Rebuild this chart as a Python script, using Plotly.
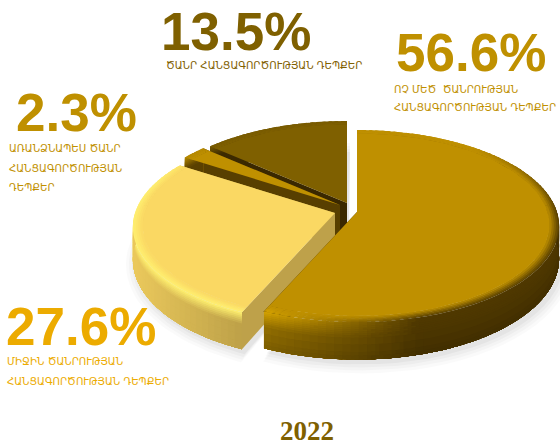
import math
import plotly.graph_objects as go

# data
categories = ["ՈՉ ՄԵԾ ԾԱՆՐՈՒԹՅԱՆ ՀԱՆՑԱԳՈՐԾՈՒԹՅԱՆ ԴԵՊՔԵՐ",
              "ՄԻՋԻՆ ԾԱՆՐՈՒԹՅԱՆ ՀԱՆՑԱԳՈՐԾՈՒԹՅԱՆ ԴԵՊՔԵՐ",
              "ԱՌԱՆՁՆԱՊԵՍ ԾԱՆՐ ՀԱՆՑԱԳՈՐԾՈՒԹՅԱՆ ԴԵՊՔԵՐ",
              "ԾԱՆՐ ՀԱՆՑԱԳՈՐԾՈՒԹՅԱՆ ԴԵՊՔԵՐ"]
values = [56.6, 27.6, 2.3, 13.5]
value_labels = ["56.6%", "27.6%", "2.3%", "13.5%"]
year = "2022"

label_lines = [["ՈՉ ՄԵԾ  ԾԱՆՐՈՒԹՅԱՆ", "ՀԱՆՑԱԳՈՐԾՈՒԹՅԱՆ ԴԵՊՔԵՐ"],
               ["ՄԻՋԻՆ ԾԱՆՐՈՒԹՅԱՆ", "ՀԱՆՑԱԳՈՐԾՈՒԹՅԱՆ ԴԵՊՔԵՐ"],
               ["ԱՌԱՆՁՆԱՊԵՍ ԾԱՆՐ", "ՀԱՆՑԱԳՈՐԾՈՒԹՅԱՆ", "ԴԵՊՔԵՐ"],
               ["ԾԱՆՐ ՀԱՆՑԱԳՈՐԾՈՒԹՅԱՆ ԴԵՊՔԵՐ"]]

# styles and layout
text_colors = ["#bf9000", "#ecab00", "#bf9000", "#7f6000"]
big_pos = [(395, 52), (5, 326), (15, 112), (160, 31)]
small_pos = [(393, [89, 107]), (6, [361, 381]), (8, [148, 168, 187]), (165, [65])]
apex = [(357, 212), (335, 213), (340, 205), (347, 203)]
R, RT, K, H = 200, 94, 0.146, 32
shades = [
    dict(top=(191, 144, 0), rim_l=(214, 164, 0), rim_r=(80, 57, 0), wall_l=(146, 110, 0), wall_r=(76, 54, 0),
         cut=(70, 50, 0), x0=265, x1=420, fade=(40, 90), reach=0.42, low=0.86),
    dict(top=(250, 216, 99), rim_l=(255, 240, 112), rim_r=(255, 240, 112), wall_l=(234, 200, 92), wall_r=(188, 160, 72),
         cut=(190, 161, 74), x0=135, x1=245, fade=(320, 290), reach=0.32, low=1.0),
    dict(top=(191, 144, 0), rim_l=(180, 136, 0), rim_r=(180, 136, 0), wall_l=(90, 64, 0), wall_r=(90, 64, 0),
         cut=(88, 63, 0), x0=180, x1=340, fade=None, reach=0.42, low=1.0),
    dict(top=(127, 96, 0), rim_l=(120, 90, 0), rim_r=(120, 90, 0), wall_l=(60, 42, 0), wall_r=(60, 42, 0),
         cut=(58, 40, 0), x0=200, x1=340, fade=None, reach=0.42, low=1.0),
]


def pt(theta, r, z, a):
    u, v = r * math.sin(theta), -r * math.cos(theta)
    s = 1 / (1 - K * v)
    return a[0] + R * u * s, a[1] + RT * v * s + z * H * s


def lerp(c1, c2, t):
    t = max(0.0, min(1.0, t))
    return tuple(c1[i] + (c2[i] - c1[i]) * t for i in range(3))


def hexc(c):
    return "#%02x%02x%02x" % tuple(int(round(x)) for x in c)


fig = go.Figure()


def add_poly(xs, ys, color, width=0.0):
    fig.add_trace(go.Scatter(x=xs, y=ys, mode="lines", fill="toself", fillcolor=color,
                             line=dict(color=color, width=width), hoverinfo="skip", showlegend=False))


def add_group(groups):
    for color, polys in groups.items():
        xs, ys = [], []
        for p in polys:
            xs += [q[0] for q in p] + [p[0][0], None]
            ys += [q[1] for q in p] + [p[0][1], None]
        add_poly(xs, ys, color)


total = sum(values)
spans, cum = [], 0.0
for val in values:
    spans.append((cum / total * 2 * math.pi, (cum + val) / total * 2 * math.pi))
    cum += val

# soft shadow beneath each slice
for (t0, t1), a in zip(spans, apex):
    n = 50
    th = [t0 + (t1 - t0) * i / n for i in range(n + 1)]
    for grow, alpha in [(10, 0.018), (7, 0.022), (4, 0.028), (1, 0.035)]:
        xs = [a[0] + 2] + [pt(t, 1, 1, a)[0] + 3 + grow * math.sin(t) for t in th] + [a[0] + 2]
        ys = [a[1] + H + 4] + [pt(t, 1, 1, a)[1] + 4 + grow * (-math.cos(t)) for t in th] + [a[1] + H + 4]
        fig.add_trace(go.Scatter(x=xs, y=ys, mode="lines", fill="toself", fillcolor=f"rgba(0,0,0,{alpha})",
                                 line=dict(width=0), hoverinfo="skip", showlegend=False))

bands_z = [0, 0.05, 0.1, 0.15, 0.2, 0.25, 0.3, 0.35, 0.42, 0.6, 0.8, 0.9]
bands_r = [0.99, 0.98, 0.97, 0.96, 0.95]


def rim_color(sh, tm, xm):
    h = (xm - sh["x0"]) / (sh["x1"] - sh["x0"])
    rim = lerp(sh["rim_l"], sh["rim_r"], h)
    if sh["fade"]:
        d0, d1 = sh["fade"]
        f = (math.degrees(tm) - d0) / (d1 - d0)
        rim = lerp(sh["top"], rim, f)
    return rim, h


for idx in [3, 2, 1, 0]:
    t0, t1 = spans[idx]
    a, sh = apex[idx], shades[idx]
    n = max(8, int((t1 - t0) / math.radians(2.0)))
    ths = [t0 + (t1 - t0) * i / n for i in range(n + 1)]

    for t_end in (t0, t1):
        p = [pt(t_end, 0, 0, a), pt(t_end, 1, 0, a), pt(t_end, 1, 1, a), pt(t_end, 0, 1, a)]
        add_poly([q[0] for q in p] + [p[0][0]], [q[1] for q in p] + [p[0][1]], hexc(sh["cut"]))

    # wall: each band is painted over the one before it, from top to bottom
    for j, z0 in enumerate(bands_z):
        z1 = bands_z[j + 1] if j + 1 < len(bands_z) else 1.0
        zm = (z0 + z1) / 2
        groups = {}
        for i in range(n):
            tm = (ths[i] + ths[i + 1]) / 2
            xm = pt(tm, 1, 0, a)[0]
            rim, h = rim_color(sh, tm, xm)
            wall = lerp(sh["wall_l"], sh["wall_r"], h)
            reach = sh["reach"]
            if zm < reach:
                col = lerp(rim, wall, zm / reach)
            else:
                col = lerp(wall, tuple(x * sh["low"] for x in wall), (zm - reach) / (1 - reach))
            t2 = min(t1, ths[i + 1] + (ths[1] - ths[0]) * 0.5)
            quad = [pt(ths[i], 1, z0, a), pt(t2, 1, z0, a), pt(t2, 1, 1, a), pt(ths[i], 1, 1, a)]
            groups.setdefault(hexc(col), []).append(quad)
        add_group(groups)

    # bevel: full sector painted from the rim inwards, then the flat top
    prev = 1.0
    for rb in bands_r:
        groups = {}
        for i in range(n):
            tm = (ths[i] + ths[i + 1]) / 2
            xm = pt(tm, 1, 0, a)[0]
            rim, _ = rim_color(sh, tm, xm)
            col = lerp(sh["top"], rim, ((rb + prev) / 2 - 0.95) / 0.05)
            t2 = min(t1, ths[i + 1] + (ths[1] - ths[0]) * 0.5)
            quad = [pt(ths[i], rb, 0, a), pt(t2, rb, 0, a), pt(t2, prev, 0, a), pt(ths[i], prev, 0, a)]
            groups.setdefault(hexc(col), []).append(quad)
        add_group(groups)
        prev = rb + 0.004
    top = [pt(t, 0.953, 0, a) for t in ths]
    xs = [a[0]] + [q[0] for q in top] + [a[0]]
    ys = [a[1]] + [q[1] for q in top] + [a[1]]
    add_poly(xs, ys, hexc(sh["top"]))

ann = []
for vl, col, (bx, by), (sx, sys), lines in zip(value_labels, text_colors, big_pos, small_pos, label_lines):
    ann.append(dict(x=bx, y=by, text=f"<b>{vl}</b>", xanchor="left", yanchor="middle", showarrow=False,
                    xref="x", yref="y", borderpad=0, font=dict(family="Liberation Sans", size=53, color=col)))
    for line, ly in zip(lines, sys):
        ann.append(dict(x=sx, y=ly, text=line, xanchor="left", yanchor="middle", showarrow=False,
                        xref="x", yref="y", borderpad=0, font=dict(family="DejaVu Sans", size=10.2, color=col)))
ann.append(dict(x=307, y=431, text=f"<b>{year}</b>", xanchor="center", yanchor="middle", showarrow=False,
                xref="x", yref="y", borderpad=0, font=dict(family="Liberation Serif", size=27, color="#7f6000")))

fig.update_layout(width=560, height=443, margin=dict(l=0, r=0, t=0, b=0), paper_bgcolor="white", plot_bgcolor="white",
                  showlegend=False, annotations=ann,
                  xaxis=dict(range=[0, 560], visible=False, fixedrange=True),
                  yaxis=dict(range=[443, 0], visible=False, fixedrange=True))
fig.write_html("out.html", config=dict(displayModeBar=False),
               post_script="document.body.style.margin='0';document.documentElement.style.overflow='hidden';document.body.style.overflow='hidden';")
